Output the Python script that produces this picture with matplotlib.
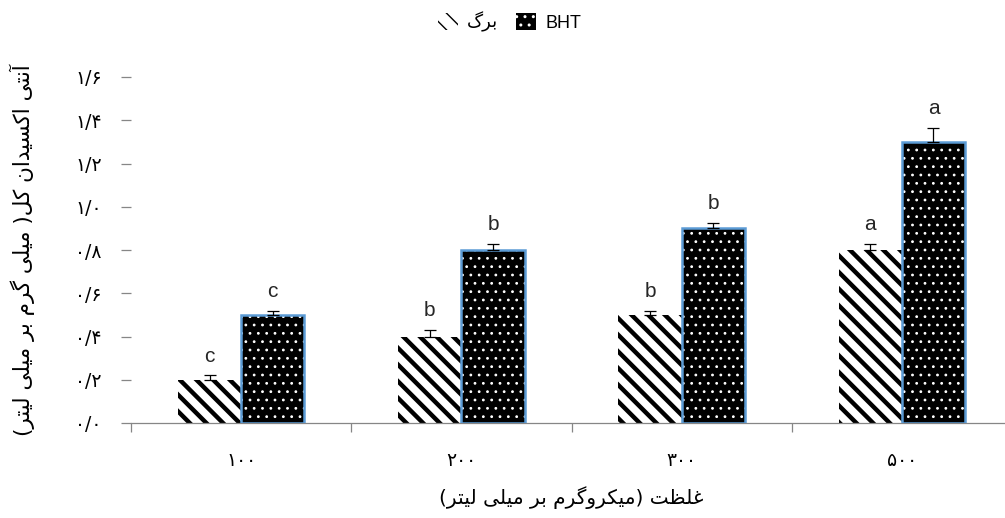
import numpy as np
import matplotlib
matplotlib.use('Agg')
import matplotlib.pyplot as plt


# غلظت عصاره (میکروگرم بر میلی لیتر)
concentrations = [100, 200, 300, 500]

# آنتی اکسیدان کل - برگ
leaf_values = [0.20, 0.40, 0.50, 0.80]
leaf_errors = [0.02, 0.03, 0.02, 0.03]
leaf_letters = ['c', 'b', 'b', 'a']

# آنتی اکسیدان کل - BHT
bht_values = [0.50, 0.80, 0.90, 1.30]
bht_errors = [0.02, 0.03, 0.025, 0.065]
bht_letters = ['c', 'b', 'b', 'a']

y_ticks = [0.0, 0.2, 0.4, 0.6, 0.8, 1.0, 1.2, 1.4, 1.6]

leaf_name = 'برگ'
bht_name = 'BHT'
y_title = 'آنتی اکسیدان کل( میلی گرم بر میلی لیتر)'
x_title = 'غلظت (میکروگرم بر میلی لیتر)'


# matplotlib حروف فارسی را به هم نمی‌چسباند، پس شکل‌های اتصالی را خودمان می‌سازیم
# (تنها, پایانی, آغازی, میانی)
FORMS = {
    'آ': ('\uFE81', '\uFE82', None, None),
    'ا': ('\uFE8D', '\uFE8E', None, None),
    'ب': ('\uFE8F', '\uFE90', '\uFE91', '\uFE92'),
    'ت': ('\uFE95', '\uFE96', '\uFE97', '\uFE98'),
    'د': ('\uFEA9', '\uFEAA', None, None),
    'ر': ('\uFEAD', '\uFEAE', None, None),
    'س': ('\uFEB1', '\uFEB2', '\uFEB3', '\uFEB4'),
    'ظ': ('\uFEC5', '\uFEC6', '\uFEC7', '\uFEC8'),
    'غ': ('\uFECD', '\uFECE', '\uFECF', '\uFED0'),
    'ل': ('\uFEDD', '\uFEDE', '\uFEDF', '\uFEE0'),
    'م': ('\uFEE1', '\uFEE2', '\uFEE3', '\uFEE4'),
    'ن': ('\uFEE5', '\uFEE6', '\uFEE7', '\uFEE8'),
    'و': ('\uFEED', '\uFEEE', None, None),
    'ک': ('\uFB8E', '\uFB8F', '\uFB90', '\uFB91'),
    'گ': ('\uFB92', '\uFB93', '\uFB94', '\uFB95'),
    'ی': ('\uFBFC', '\uFBFD', '\uFBFE', '\uFBFF'),
}


def shape_fa(text):
    out = []
    for i, ch in enumerate(text):
        if ch not in FORMS:
            out.append(ch)
            continue
        prev = text[i - 1] if i > 0 else ''
        nxt = text[i + 1] if i + 1 < len(text) else ''
        joins_prev = prev in FORMS and FORMS[prev][2] is not None
        joins_next = FORMS[ch][2] is not None and nxt in FORMS
        iso, fin, ini, med = FORMS[ch]
        if joins_prev and joins_next:
            out.append(med)
        elif joins_prev:
            out.append(fin)
        elif joins_next:
            out.append(ini)
        else:
            out.append(iso)
    # راست به چپ: ترتیب را برعکس و پرانتزها را قرینه کن
    mirror = {'(': ')', ')': '('}
    return ''.join(mirror.get(c, c) for c in reversed(out))


FA_DIGITS = str.maketrans('0123456789.', '۰۱۲۳۴۵۶۷۸۹/')


def fa_num(s):
    return str(s).translate(FA_DIGITS)


fa_font = ['DejaVu Sans']
latin_font = ['Liberation Sans', 'DejaVu Sans']

fig = plt.figure(figsize=(10.05, 5.18), dpi=100)
ax = fig.add_axes([131 / 1005, 95 / 518, 881 / 1005, 346 / 518])

x = np.arange(len(concentrations))
w = 0.287
axis_gray = '#868686'

# برگ: راه راه مورب سیاه روی سفید
with plt.rc_context({'hatch.linewidth': 3.2}):
    leaf_bars = ax.bar(x - w / 2, leaf_values, w, color='white', edgecolor='black',
                       hatch='\\\\', linewidth=0, zorder=2)

# BHT: زمینه سیاه با نقطه‌های سفید و قاب آبی
with plt.rc_context({'hatch.linewidth': 0.8}):
    bht_bars = ax.bar(x + w / 2, bht_values, w, color='black', edgecolor='white',
                      hatch='..', linewidth=0, zorder=2)
ax.bar(x + w / 2, bht_values, w, fill=False, edgecolor='#5B9BD5', linewidth=1.8, zorder=3)

# خطای استاندارد فقط رو به بالا
ax.errorbar(x - w / 2, leaf_values, yerr=[np.zeros(4), leaf_errors], fmt='none',
            ecolor='black', elinewidth=0.9, capsize=4.3, capthick=0.9, zorder=4)
ax.errorbar(x + w / 2, bht_values, yerr=[np.zeros(4), bht_errors], fmt='none',
            ecolor='black', elinewidth=0.9, capsize=4.3, capthick=0.9, zorder=4)

for xi, v, e, t in zip(x - w / 2, leaf_values, leaf_errors, leaf_letters):
    ax.annotate(t, (xi, v + e), xytext=(0, 10), textcoords='offset points',
                ha='center', va='baseline', fontsize=15, family=latin_font, color='#262626')
for xi, v, e, t in zip(x + w / 2, bht_values, bht_errors, bht_letters):
    ax.annotate(t, (xi, v + e), xytext=(0, 10), textcoords='offset points',
                ha='center', va='baseline', fontsize=15, family=latin_font, color='#262626')

ax.set_xlim(-0.5, len(x) - 0.5)
ax.set_ylim(0, 1.6)

ax.set_yticks(y_ticks)
ax.set_yticklabels([fa_num(f'{v:.1f}') for v in y_ticks], family=fa_font, fontsize=13.5)
ax.set_xticks(x)
ax.set_xticklabels([fa_num(c) for c in concentrations], family=fa_font, fontsize=13.5)
ax.set_xticks(np.arange(len(x) + 1) - 0.5, minor=True)

ax.tick_params(axis='y', length=7, width=0.9, color=axis_gray, pad=14)
ax.tick_params(axis='x', which='major', length=0, pad=20)
ax.tick_params(axis='x', which='minor', length=6.5, width=0.9, color=axis_gray)

for s in ['top', 'right', 'left']:
    ax.spines[s].set_visible(False)
ax.spines['bottom'].set_color(axis_gray)
ax.spines['bottom'].set_linewidth(0.9)

ax.set_xlabel(shape_fa(x_title), family=fa_font, fontsize=14.5, labelpad=12)
fig.text(22 / 1005, 1 - 250 / 518, shape_fa(y_title), rotation=90, family=fa_font,
         fontsize=15.5, ha='center', va='center')

fig.legend([leaf_bars, bht_bars], [shape_fa(leaf_name), bht_name], loc='center',
           bbox_to_anchor=(0.507, 1 - 22 / 518), ncol=2, frameon=False,
           prop={'family': latin_font, 'size': 13}, handlelength=1.1, handleheight=1.0,
           handletextpad=0.5, columnspacing=1.0)

fig.savefig('out.png', dpi=100)
